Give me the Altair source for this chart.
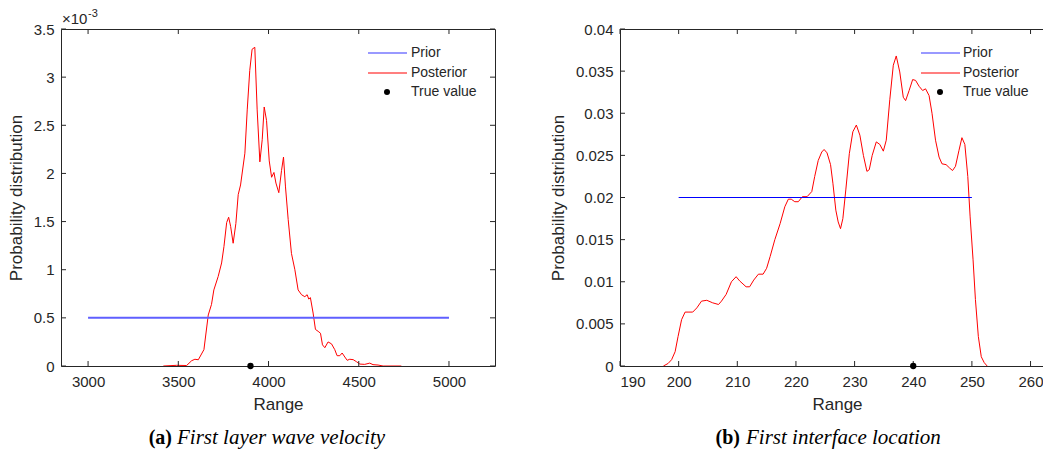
import altair as alt
import pandas as pd

# ---------------- Panel (a): first layer wave velocity (y in units of 1e-3) -------------
a_x = [3417, 3491, 3546, 3574, 3592, 3611, 3642, 3666, 3684, 3697, 3721, 3740, 3753, 3768,
       3779, 3790, 3804, 3819, 3832, 3845, 3869, 3882, 3896, 3909, 3924, 3937, 3952, 3965,
       3976, 3989, 4004, 4017, 4030, 4041, 4057, 4072, 4083, 4094, 4109, 4127, 4146, 4164,
       4183, 4201, 4214, 4223, 4232, 4247, 4260, 4275, 4288, 4299, 4312, 4330, 4349, 4367,
       4380, 4395, 4408, 4423, 4436, 4450, 4469, 4487, 4506, 4533, 4561, 4579, 4607, 4635, 4736]
a_post = [0.0, 0.007, 0.005, 0.055, 0.07, 0.065, 0.17, 0.53, 0.64, 0.79, 0.93, 1.07, 1.24, 1.49,
          1.545, 1.45, 1.275, 1.48, 1.78, 1.88, 2.21, 2.66, 3.07, 3.29, 3.31, 2.66, 2.12, 2.35,
          2.69, 2.55, 2.13, 1.96, 2.01, 1.90, 1.80, 2.03, 2.17, 1.86, 1.52, 1.17, 1.00, 0.79,
          0.74, 0.72, 0.74, 0.695, 0.71, 0.55, 0.38, 0.36, 0.34, 0.22, 0.19, 0.25, 0.23, 0.17,
          0.107, 0.107, 0.135, 0.093, 0.059, 0.07, 0.066, 0.045, 0.02, 0.017, 0.03, 0.014, 0.01, 0.0, 0.0]
a_prior_x = [3000, 5000]
a_prior_y = [0.5, 0.5]
a_true_x = [3900]
a_true_y = [0.0]
a_xticks = [3000, 3500, 4000, 4500, 5000]
a_yticks = [0, 0.5, 1, 1.5, 2, 2.5, 3, 3.5]
SCALE_A = 1e-3

# ---------------- Panel (b): first interface location -------------
b_x = [197.4, 198.2, 198.8, 199.4, 199.9, 200.5, 201.1, 201.6, 202.4, 203.1, 203.9, 204.8, 205.8,
       206.8, 207.3, 208.1, 209.0, 209.8, 210.4, 211.5, 212.1, 212.8, 213.6, 214.4, 215.0, 215.6,
       216.4, 217.3, 218.1, 218.7, 219.2, 219.8, 220.4, 221.1, 221.9, 222.7, 223.2, 223.8, 224.4,
       224.8, 225.3, 225.9, 226.3, 226.8, 227.2, 227.6, 228.0, 228.5, 229.1, 229.7, 230.3, 230.9,
       231.5, 232.1, 232.5, 233.0, 233.7, 234.3, 234.9, 235.4, 236.0, 236.6, 237.1, 237.7, 238.3,
       238.7, 239.3, 239.9, 240.4, 241.0, 241.6, 242.1, 242.7, 243.2, 243.8, 244.4, 244.9, 245.6,
       246.2, 246.7, 247.2, 247.8, 248.3, 248.8, 249.3, 249.7, 250.2, 250.6, 251.1, 251.6, 252.1, 252.6]
b_post = [0.0, 0.0003, 0.00075, 0.0017, 0.0035, 0.0055, 0.0064, 0.0064, 0.0064, 0.0069, 0.0077,
          0.0078, 0.0075, 0.0073, 0.0077, 0.0085, 0.0100, 0.0106, 0.0101, 0.0094, 0.0094, 0.0102,
          0.0109, 0.0109, 0.0116, 0.0130, 0.0150, 0.0169, 0.0189, 0.0198, 0.0198, 0.0195, 0.0195,
          0.0201, 0.0201, 0.0207, 0.0225, 0.0244, 0.0254, 0.0257, 0.0253, 0.0239, 0.0217, 0.0185,
          0.0171, 0.0163, 0.0175, 0.0209, 0.0252, 0.0278, 0.0286, 0.0274, 0.0250, 0.0231, 0.0233,
          0.0250, 0.0266, 0.0263, 0.0255, 0.0268, 0.0316, 0.0357, 0.0368, 0.0349, 0.0319, 0.0315,
          0.0327, 0.0340, 0.0339, 0.0332, 0.0327, 0.0329, 0.0321, 0.0300, 0.0268, 0.0248, 0.0240,
          0.0239, 0.0235, 0.0232, 0.0237, 0.0256, 0.0271, 0.0263, 0.0225, 0.0177, 0.0126, 0.0079,
          0.0035, 0.0011, 0.0004, 0.0]
b_prior_x = [200, 250]
b_prior_y = [0.02, 0.02]
b_true_x = [240]
b_true_y = [0.0]
b_xticks = [190, 200, 210, 220, 230, 240, 250, 260]
b_yticks = [0, 0.005, 0.01, 0.015, 0.02, 0.025, 0.03, 0.035, 0.04]

legend_labels = ["Prior", "Posterior", "True value"]
x_title = "Range"
y_title = "Probability distribution"
captions = [("(a)", "First layer wave velocity"), ("(b)", "First interface location")]
exponent = ("\u00d710", "-3")

W, H = 434, 337
AX = "#262626"
SANS = "Liberation Sans"
SERIF = "Liberation Serif"
TICK = 5
CAP_Y = 415


def panel(px, py, prx, pry, tx, ty, xdom, ydom, xticks, yticks, yfmt_expr, yfmt,
          prior_color, prior_width, leg, cap, cap_pos, show_exp):
    xenc = alt.X("x:Q", scale=alt.Scale(domain=xdom, nice=False, zero=False),
                 axis=alt.Axis(values=xticks, format="d", title=x_title, labelPadding=8,
                               titlePadding=7))
    yaxis_kw = dict(values=yticks, title=y_title, labelPadding=7, titlePadding=8)
    if yfmt_expr:
        yaxis_kw["labelExpr"] = yfmt_expr
    else:
        yaxis_kw["format"] = yfmt
    yenc = alt.Y("y:Q", scale=alt.Scale(domain=ydom, nice=False, zero=False),
                 axis=alt.Axis(**yaxis_kw))

    post = alt.Chart(pd.DataFrame({"x": px, "y": py})).mark_line(
        color="#ff0000", strokeWidth=1, clip=True).encode(x=xenc, y=yenc)
    prior = alt.Chart(pd.DataFrame({"x": prx, "y": pry})).mark_line(
        color=prior_color, strokeWidth=prior_width).encode(x=xenc, y=yenc)
    true = alt.Chart(pd.DataFrame({"x": tx, "y": ty})).mark_circle(
        color="black", size=40, opacity=1).encode(x=xenc, y=yenc)

    xt = pd.DataFrame({"x": xticks})
    yt = pd.DataFrame({"y": yticks})
    tick_b = alt.Chart(xt).mark_rule(color=AX, strokeWidth=1).encode(
        x=xenc, y=alt.value(H), y2=alt.value(H - TICK))
    tick_t = alt.Chart(xt).mark_rule(color=AX, strokeWidth=1).encode(
        x=xenc, y=alt.value(0), y2=alt.value(TICK))
    tick_l = alt.Chart(yt).mark_rule(color=AX, strokeWidth=1).encode(
        y=yenc, x=alt.value(0), x2=alt.value(TICK))
    tick_r = alt.Chart(yt).mark_rule(color=AX, strokeWidth=1).encode(
        y=yenc, x=alt.value(W), x2=alt.value(W - TICK))

    lx0, lx1, ltx, ldot = leg
    ly = [24, 44, 63]
    one = pd.DataFrame({"k": [0]})
    leg_prior = alt.Chart(one).mark_rule(color="#7777ff", strokeWidth=1.5).encode(
        x=alt.value(lx0), x2=alt.value(lx1), y=alt.value(ly[0]))
    leg_post = alt.Chart(one).mark_rule(color="#ff0000", strokeWidth=1.2).encode(
        x=alt.value(lx0), x2=alt.value(lx1), y=alt.value(ly[1]))
    leg_dot = alt.Chart(one).mark_circle(color="black", size=36, opacity=1).encode(
        x=alt.value(ldot), y=alt.value(ly[2]))
    leg_txt = [
        alt.Chart(one).mark_text(text=legend_labels[i], align="left", baseline="middle",
                                 font=SANS, fontSize=14, color=AX).encode(
            x=alt.value(ltx), y=alt.value(ly[i]))
        for i in range(3)
    ]

    bold_x, ital_x = cap_pos
    cap_b = alt.Chart(one).mark_text(text=cap[0], align="right", baseline="alphabetic",
                                     font=SERIF, fontSize=20, fontWeight="bold",
                                     color="black").encode(x=alt.value(bold_x), y=alt.value(CAP_Y))
    cap_i = alt.Chart(one).mark_text(text=cap[1], align="left", baseline="alphabetic",
                                     font=SERIF, fontSize=21, fontStyle="italic",
                                     color="black").encode(x=alt.value(ital_x), y=alt.value(CAP_Y))

    layers = [post, prior, tick_b, tick_t, tick_l, tick_r, true,
              leg_prior, leg_post, leg_dot] + leg_txt + [cap_b, cap_i]
    if show_exp:
        e1 = alt.Chart(one).mark_text(text=exponent[0], align="left", baseline="alphabetic",
                                      font=SANS, fontSize=15, color=AX).encode(
            x=alt.value(1), y=alt.value(-5))
        e2 = alt.Chart(one).mark_text(text=exponent[1], align="left", baseline="alphabetic",
                                      font=SANS, fontSize=11, color=AX).encode(
            x=alt.value(27), y=alt.value(-12))
        layers += [e1, e2]
    return alt.layer(*layers).properties(width=W, height=H)


left = panel(a_x, [v * SCALE_A for v in a_post], a_prior_x, [v * SCALE_A for v in a_prior_y],
             a_true_x, a_true_y, [2850, 5255], [0, 3.5e-3], a_xticks,
             [v * SCALE_A for v in a_yticks],
             "format(datum.value*1000, '.2~f')", None,
             "#5f5fff", 2, (307, 346, 350, 326), captions[0], (111, 116), True)
right = panel(b_x, b_post, b_prior_x, b_prior_y, b_true_x, b_true_y,
              [190, 264], [0, 0.04], b_xticks, b_yticks, None, "~g",
              "#0000ff", 1.0, (301, 340, 343, 320), captions[1], (120, 126), False)

chart = alt.hconcat(left, right, spacing=125, bounds="flush").properties(
    padding={"left": -2, "top": -1, "right": -12, "bottom": 3},
    background="white"
).configure_view(stroke=AX, strokeWidth=1).configure_axis(
    domain=False, ticks=False, grid=False,
    labelFont=SANS, labelFontSize=15, labelColor=AX,
    titleFont=SANS, titleFontSize=17, titleFontWeight="normal", titleColor=AX
)

chart.save("out.html", embed_options={"renderer": "svg", "actions": False})
